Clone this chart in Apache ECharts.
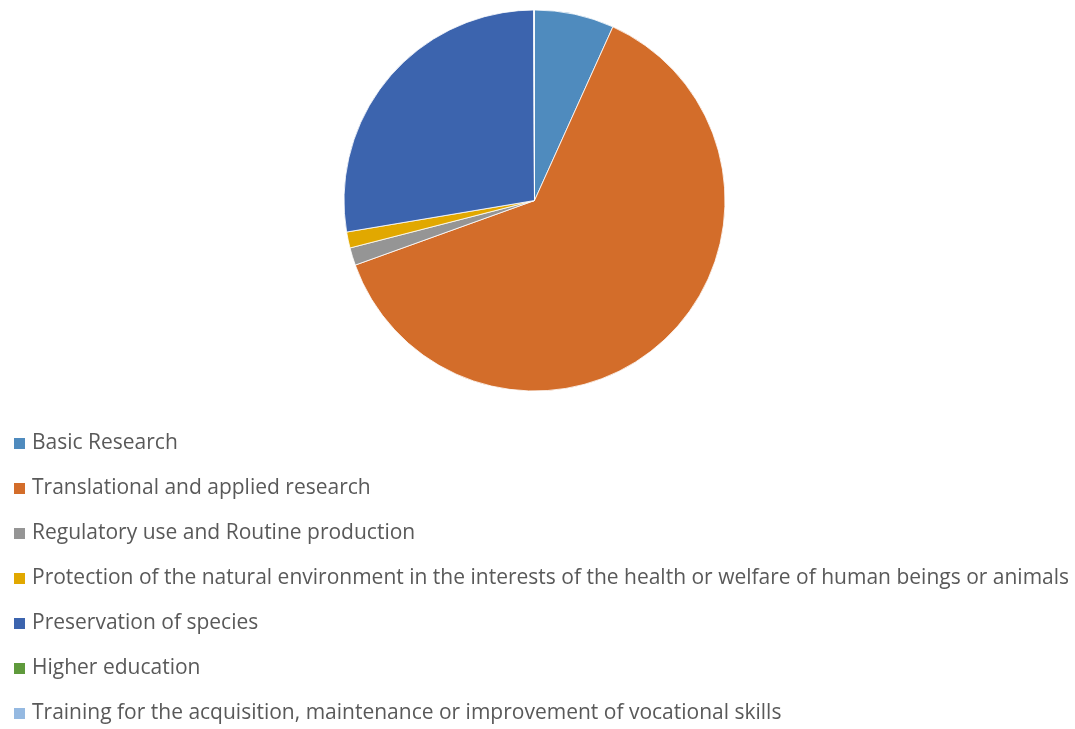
<!DOCTYPE html>
<html><head><meta charset="utf-8">
<script src="https://cdn.jsdelivr.net/npm/echarts@6/dist/echarts.min.js"></script>
<style>html,body{margin:0;padding:0;background:#fff}#c{width:1075px;height:729px}</style>
</head><body><div id="c"></div>
<script>
const categories = [
  "Basic Research",
  "Translational and applied research",
  "Regulatory use and Routine production",
  "Protection of the natural environment in the interests of the health or welfare of human beings or animals",
  "Preservation of species",
  "Higher education",
  "Training for the acquisition, maintenance or improvement of vocational skills"
];
const values = [6.75, 62.75, 1.5, 1.36, 27.6, 0, 0.05];
const colors = ["#4F8BBE", "#D36D2A", "#959595", "#E1A800", "#3C64AE", "#5F9A3C", "#95B9E1"];

const chart = echarts.init(document.getElementById('c'), null, {renderer: 'canvas'});
chart.setOption({
  animation: false,
  color: colors,
  legend: {
    orient: 'vertical',
    left: 12,
    top: 433,
    width: 1070,
    height: 300,
    padding: 0,
    icon: 'rect',
    itemWidth: 13,
    itemHeight: 13,
    itemGap: 24,
    data: categories,
    textStyle: {color: '#595959', fontSize: 21, lineHeight: 20, fontFamily: 'Open Sans', padding: [0, 0, 0, 1]}
  },
  series: [{
    type: 'pie',
    center: [534.5, 200.5],
    radius: [0, 190.5],
    startAngle: 90,
    clockwise: true,
    label: {show: false},
    labelLine: {show: false},
    itemStyle: {borderColor: '#fff', borderWidth: 0.8},
    emphasis: {disabled: true},
    data: categories.map((n, i) => ({name: n, value: values[i]}))
  }]
});
</script></body></html>
